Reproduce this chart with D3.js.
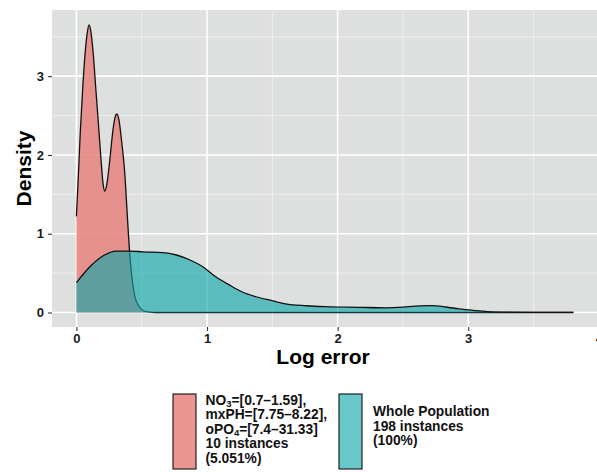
<!DOCTYPE html>
<html>
<head>
<meta charset="utf-8">
<script src="https://cdn.jsdelivr.net/npm/d3@7"></script>
<style>
  html, body { margin: 0; padding: 0; background: #ffffff; overflow: hidden; }
  svg { display: block; font-family: "Liberation Sans", Arial, sans-serif; }
</style>
</head>
<body>
<svg id="chart" width="597" height="472"></svg>
<script>
// Density estimates of the log error, sampled along the x axis
const subsetX = [0, 0.015, 0.03, 0.05, 0.067, 0.083, 0.097, 0.112, 0.128, 0.148, 0.166, 0.19, 0.205, 0.218, 0.232, 0.256, 0.28, 0.3, 0.31, 0.325, 0.345, 0.37, 0.39, 0.408, 0.434, 0.472, 0.536, 0.6, 1.5, 3.805];
const subsetDensity = [1.22, 1.75, 2.3, 2.9, 3.3, 3.55, 3.65, 3.55, 3.3, 2.85, 2.45, 1.9, 1.62, 1.54, 1.62, 1.94, 2.32, 2.5, 2.52, 2.45, 2.19, 1.77, 1.22, 0.75, 0.33, 0.095, 0.01, 0, 0, 0];

const wholeX = [0, 0.103, 0.205, 0.307, 0.408, 0.51, 0.663, 0.765, 0.866, 0.968, 1.07, 1.17, 1.27, 1.375, 1.5, 1.6, 1.76, 1.91, 2.16, 2.37, 2.47, 2.63, 2.72, 2.83, 2.93, 3.05, 3.15, 3.3, 3.5, 3.805];
const wholeDensity = [0.38, 0.58, 0.72, 0.78, 0.78, 0.77, 0.76, 0.73, 0.67, 0.58, 0.45, 0.35, 0.26, 0.2, 0.15, 0.11, 0.086, 0.074, 0.066, 0.06, 0.066, 0.085, 0.088, 0.07, 0.045, 0.025, 0.012, 0.005, 0.002, 0.001];

const xTickValues = [0, 1, 2, 3, 4];
const yTickValues = [0, 1, 2, 3];
const xMinor = [-0.5, 0.5, 1.5, 2.5, 3.5];
const yMinor = [0.5, 1.5, 2.5, 3.5];

const legendSubset = [
  [["NO", false], ["3", true], ["=[0.7–1.59],", false]],
  [["mxPH=[7.75–8.22],", false]],
  [["oPO", false], ["4", true], ["=[7.4–31.33]", false]],
  [["10 instances", false]],
  [["(5.051%)", false]]
];
const legendWhole = ["Whole Population", "198 instances", "(100%)"];

const svg = d3.select("#chart");

const panel = { left: 52, top: 10, right: 600, bottom: 327 };

const x = d3.scaleLinear().domain([-0.187, 4.01]).range([panel.left, panel.left + (4.01 + 0.187) * 130.6]);
const y = d3.scaleLinear().domain([-0.184, 3.84]).range([panel.bottom, panel.top]);

const panelBg = "#dedfdf";
const pinkFill = "rgba(230,132,127,0.86)";
const tealFill = "rgba(12,166,170,0.62)";

// panel background
svg.append("rect")
  .attr("x", panel.left).attr("y", panel.top)
  .attr("width", panel.right - panel.left).attr("height", panel.bottom - panel.top)
  .attr("fill", panelBg);

const grid = svg.append("g");
// minor grid
grid.selectAll("line.xm").data(xMinor.filter(v => x(v) > panel.left)).join("line")
  .attr("x1", d => x(d)).attr("x2", d => x(d))
  .attr("y1", panel.top).attr("y2", panel.bottom)
  .attr("stroke", "#f2f2f2").attr("stroke-width", 0.8);
grid.selectAll("line.ym").data(yMinor).join("line")
  .attr("x1", panel.left).attr("x2", panel.right)
  .attr("y1", d => y(d)).attr("y2", d => y(d))
  .attr("stroke", "#f2f2f2").attr("stroke-width", 0.8);
// major grid
grid.selectAll("line.xM").data(xTickValues).join("line")
  .attr("x1", d => x(d)).attr("x2", d => x(d))
  .attr("y1", panel.top).attr("y2", panel.bottom)
  .attr("stroke", "#ffffff").attr("stroke-width", 1.6);
grid.selectAll("line.yM").data(yTickValues).join("line")
  .attr("x1", panel.left).attr("x2", panel.right)
  .attr("y1", d => y(d)).attr("y2", d => y(d))
  .attr("stroke", "#ffffff").attr("stroke-width", 1.6);

function series(xs, ys) { return xs.map((v, i) => ({ x: v, y: ys[i] })); }

const area = d3.area().x(d => x(d.x)).y0(y(0)).y1(d => y(d.y)).curve(d3.curveMonotoneX);
const line = d3.line().x(d => x(d.x)).y(d => y(d.y)).curve(d3.curveMonotoneX);

const subset = series(subsetX, subsetDensity);
const whole = series(wholeX, wholeDensity);

svg.append("path").datum(subset).attr("d", area).attr("fill", pinkFill);
svg.append("path").datum(subset).attr("d", line).attr("fill", "none").attr("stroke", "#111").attr("stroke-width", 1.3);
svg.append("path").datum(whole).attr("d", area).attr("fill", tealFill);
svg.append("path").datum(whole).attr("d", line).attr("fill", "none").attr("stroke", "#111").attr("stroke-width", 1.3);

// axes
const xAxis = d3.axisBottom(x).tickValues(xTickValues).tickSize(4).tickPadding(3).tickFormat(d3.format("d"));
const gx = svg.append("g").attr("transform", `translate(0,${panel.bottom})`).call(xAxis);
gx.select(".domain").remove();
gx.selectAll(".tick line").attr("stroke", "#333").attr("stroke-width", 1.1);
gx.selectAll(".tick text").attr("fill", "#1a1a1a").attr("font-size", 13).attr("font-weight", "bold")
  .attr("font-family", "Liberation Sans, Arial, sans-serif");

const yAxis = d3.axisLeft(y).tickValues(yTickValues).tickSize(4).tickPadding(4).tickFormat(d3.format("d"));
const gy = svg.append("g").attr("transform", `translate(${panel.left},0)`).call(yAxis);
gy.select(".domain").remove();
gy.selectAll(".tick line").attr("stroke", "#333").attr("stroke-width", 1.1);
gy.selectAll(".tick text").attr("fill", "#1a1a1a").attr("font-size", 13).attr("font-weight", "bold")
  .attr("font-family", "Liberation Sans, Arial, sans-serif");

// axis titles
svg.append("text")
  .attr("x", (panel.left + panel.right) / 2 - 3).attr("y", 364)
  .attr("text-anchor", "middle").attr("font-size", 21).attr("font-weight", "bold").attr("fill", "#000")
  .text("Log error");
svg.append("text")
  .attr("transform", `translate(31,${(panel.top + panel.bottom) / 2}) rotate(-90)`)
  .attr("text-anchor", "middle").attr("font-size", 21).attr("font-weight", "bold").attr("fill", "#000")
  .text("Density");

// legend
const legend = svg.append("g");
const keyTop = 394, keyH = 75, keyW = 23;
legend.append("rect").attr("x", 173).attr("y", keyTop).attr("width", keyW).attr("height", keyH)
  .attr("fill", pinkFill).attr("stroke", "#111").attr("stroke-width", 1.1);
legend.append("rect").attr("x", 339).attr("y", keyTop).attr("width", keyW).attr("height", keyH)
  .attr("fill", tealFill).attr("stroke", "#111").attr("stroke-width", 1.1);

const lineH = 14.5;
const t1 = legend.append("text").attr("font-size", 13.8).attr("font-weight", "bold").attr("fill", "#111");
legendSubset.forEach((segs, i) => {
  const row = t1.append("tspan").attr("x", 205.5).attr("y", 406.5 + i * lineH);
  segs.forEach(([txt, sub]) => {
    if (sub) {
      row.append("tspan").attr("font-size", 9.5).attr("dy", 2).text(txt);
    } else {
      row.append("tspan").attr("dy", row.selectAll("tspan").size() > 0 ? -2 : 0).text(txt);
    }
  });
});
const t2 = legend.append("text").attr("font-size", 13.8).attr("font-weight", "bold").attr("fill", "#111");
legendWhole.forEach((txt, i) => {
  t2.append("tspan").attr("x", 373).attr("y", 416 + i * lineH).text(txt);
});
</script>
</body>
</html>
